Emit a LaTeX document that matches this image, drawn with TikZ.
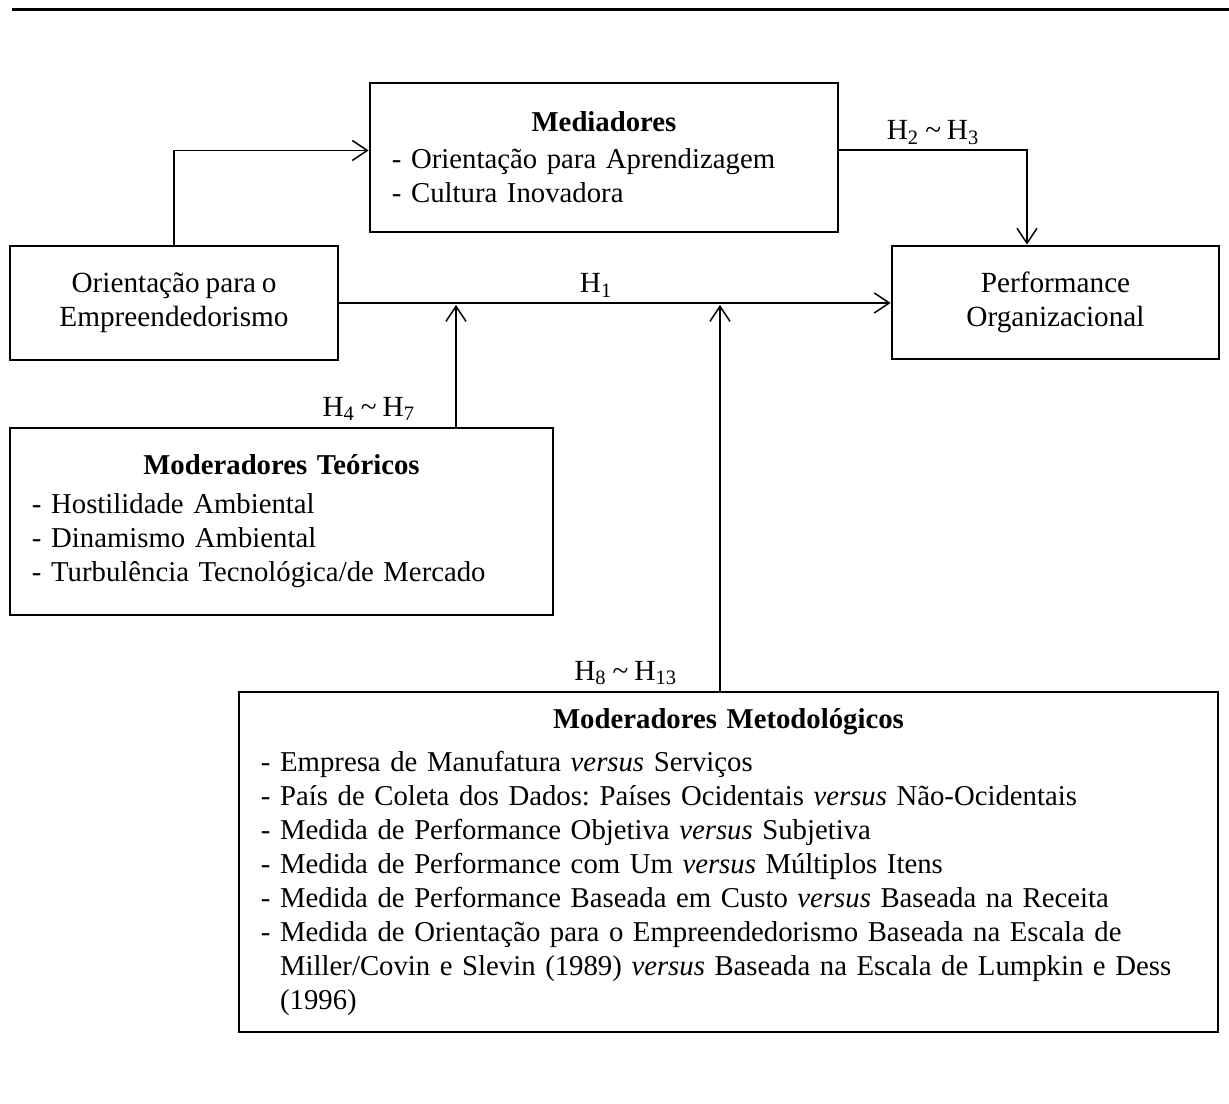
\documentclass[tikz,border=0pt]{standalone}
\usepackage{fontspec}
\setmainfont{Liberation Serif}[WordSpace=0.8]
\usetikzlibrary{arrows.meta, calc}
\frenchspacing
\tikzset{
  modelbox/.style={draw, line width=1.1pt, align=center, font=\fontsize{11.7}{13.6}\selectfont, inner sep=0pt},
  listbox/.style={modelbox, align=left, inner xsep=8.8pt, font=\fontsize{11.5}{13.6}\selectfont},
  hiparr/.style={-{Straight Barb[length=6pt, width=8pt]}, line width=0.6pt},
  hiplabel/.style={font=\fontsize{11.7}{13.6}\selectfont, inner sep=2pt},
}

\begin{document}
\begin{tikzpicture}[x=0.4pt, y=-0.4pt]
    \useasboundingbox (0,0) rectangle (1229,1104);
    \draw[line width=1.2pt] (12,10) -- (1229,10);

    \node[modelbox, minimum width=131.2pt, minimum height=45.6pt] (orient) at (174,303)
      {Orientação para o\\ Empreendedorismo};
    \node[modelbox, minimum width=130.8pt, minimum height=45.2pt] (perf) at (1055.5,302.5)
      {Performance\\ Organizacional};
    \node[listbox, text width=169.6pt, minimum height=59.6pt] (med) at (604,157.5)
      {\makebox[\linewidth][c]{\textbf{Mediadores}}\\[1.2pt]
       - Orientação para Aprendizagem\\
       - Cultura Inovadora};
    \node[listbox, text width=199.6pt, minimum height=74.8pt] (teor) at (281.5,521.5)
      {\makebox[\linewidth][c]{\textbf{Moderadores Teóricos}}\\[2pt]
       - Hostilidade Ambiental\\
       - Dinamismo Ambiental\\
       - Turbulência Tecnológica/de Mercado};
    \node[listbox, text width=374pt, minimum height=136pt] (metod) at (728.5,862)
      {\makebox[\linewidth][c]{\textbf{Moderadores Metodológicos}}\\[3.6pt]
       - Empresa de Manufatura \textit{versus} Serviços\\
       - País de Coleta dos Dados: Países Ocidentais \textit{versus} Não-Ocidentais\\
       - Medida de Performance Objetiva \textit{versus} Subjetiva\\
       - Medida de Performance com Um \textit{versus} Múltiplos Itens\\
       - Medida de Performance Baseada em Custo \textit{versus} Baseada na Receita\\
       - Medida de Orientação para o Empreendedorismo Baseada na Escala de\\
       \phantom{- }Miller/Covin e Slevin (1989) \textit{versus} Baseada na Escala de Lumpkin e Dess\\
       \phantom{- }(1996)};

    \coordinate (j1) at (456,305);
    \coordinate (j2) at (720,305);

    \draw[hiparr] (orient.north) |- ([yshift=2.8pt]med.west);
    \draw[hiparr] ([yshift=3pt]med.east) -| ([xshift=-11.4pt]perf.north)
      node[hiplabel, pos=0.25, above] {H\textsubscript{2} \textasciitilde{} H\textsubscript{3}};
    \draw[hiparr] (orient.east) -- (orient.east -| perf.west)
      node[hiplabel, pos=0.466, above] {H\textsubscript{1}};
    \draw[hiparr] (teor.north -| j1) -- (j1)
      node[hiplabel, pos=0, above left, xshift=-14pt] {H\textsubscript{4} \textasciitilde{} H\textsubscript{7}};
    \draw[hiparr] (metod.north -| j2) -- (j2)
      node[hiplabel, pos=0, above left, xshift=-14.8pt] {H\textsubscript{8} \textasciitilde{} H\textsubscript{13}};
\end{tikzpicture}
\end{document}
